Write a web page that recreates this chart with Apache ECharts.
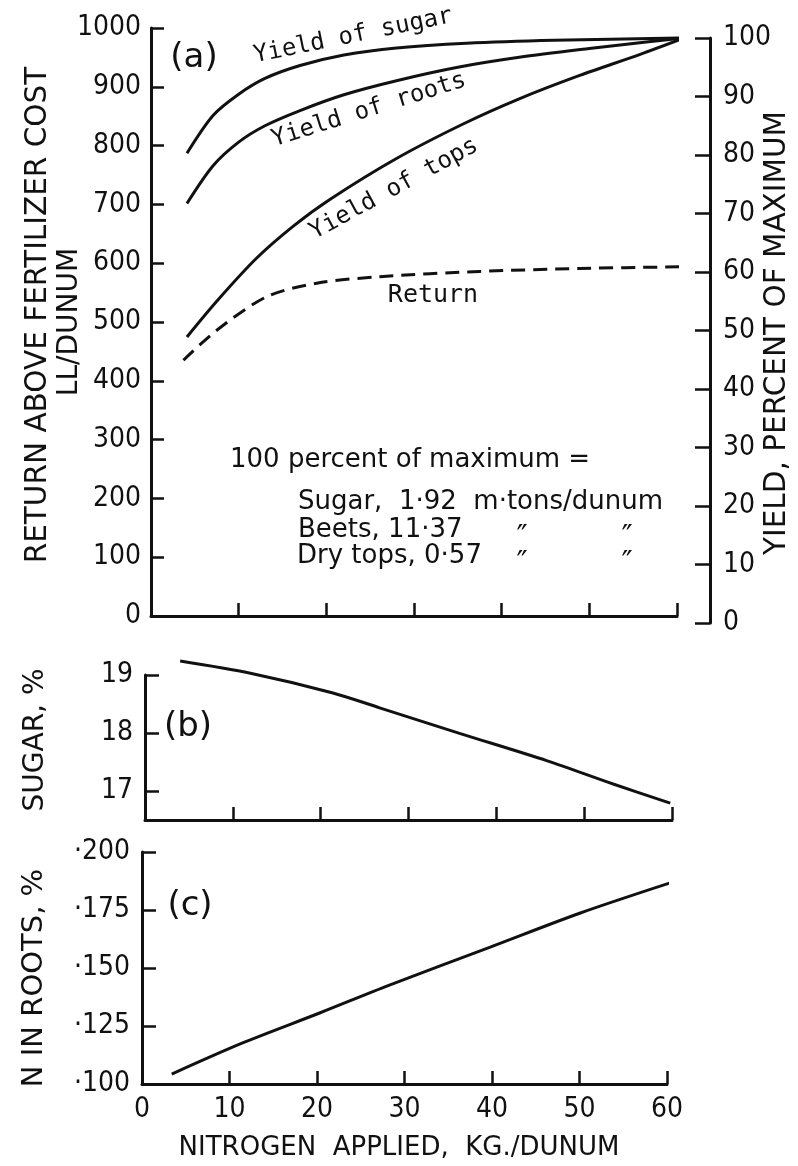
<!DOCTYPE html>
<html>
<head>
<meta charset="utf-8">
<script src="https://cdn.jsdelivr.net/npm/echarts@6/dist/echarts.min.js"></script>
<style>
  html, body { margin: 0; padding: 0; background: #fff; }
  #chart { width: 798px; height: 1166px; }
</style>
</head>
<body>
<div id="chart"></div>
<script>
// panel (a): yields as percent of maximum, return in LL/dunum
const sugarN = [4.1, 7.1, 10, 13, 17, 22, 28, 36, 46, 60.8];
const sugarPct = [80.3, 86.8, 90.4, 93.1, 95.3, 97.1, 98.3, 99.1, 99.6, 100];
const rootsN = [4.1, 7.1, 10, 13, 17, 22, 28, 35, 42, 50, 56.5, 60.8];
const rootsPct = [71.7, 78.2, 82.2, 85.0, 87.6, 90.3, 92.7, 95.0, 96.7, 98.2, 99.3, 100];
const topsN = [4.1, 7.5, 12.0, 16.2, 20.4, 28.0, 35.6, 42.0, 48.9, 55.8, 60.8];
const topsPct = [48.9, 55.0, 62.3, 67.8, 72.4, 79.4, 85.3, 89.6, 93.6, 97.2, 100];
const returnN = [3.7, 7.5, 13.2, 18.9, 26.1, 37.5, 48.9, 60.8];
const returnLL = [435, 486, 543, 566, 577, 586, 591, 594];

// panel (b): sugar content, %
const sugarContentN = [4.0, 12.0, 21.4, 26.8, 35.9, 45.8, 53.3, 59.8];
const sugarContent = [19.24, 19.03, 18.69, 18.43, 17.99, 17.52, 17.12, 16.79];

// panel (c): N in roots, %
const nRootsN = [3.4, 11.5, 20.3, 28.2, 39.8, 50.1, 60.3];
const nRoots = [0.1043, 0.1177, 0.1306, 0.1425, 0.159, 0.1737, 0.1866];

const sugarTicks = [17, 18, 19];

const INK = "#111";
const FONT_NUM = "'Liberation Sans Narrow', 'DejaVu Sans Condensed', 'DejaVu Sans', sans-serif";
const FONT_TITLE = "'DejaVu Sans', sans-serif";
const FONT_MONO = "'DejaVu Sans Mono', monospace";

const zip = (xs, ys) => xs.map((x, i) => [x, ys[i]]);

const chart = echarts.init(document.getElementById("chart"), null, { renderer: "canvas" });

const axisLine = { show: true, onZero: false, lineStyle: { color: INK, width: 3 } };
const tickStyle = { color: INK, width: 2.5 };
const numLabel = (extra) => Object.assign({ color: INK, fontFamily: FONT_NUM, fontSize: 28 }, extra);

function xAxisFor(gridIndex, showLabels, show = true) {
  return {
    type: "value",
    gridIndex,
    show,
    min: 0,
    max: 60,
    interval: 10,
    axisLine,
    axisTick: { show: true, inside: true, length: 13, lineStyle: tickStyle },
    axisLabel: numLabel({ show: showLabels, margin: 12 }),
    splitLine: { show: false },
  };
}

function lineSeries(name, data, xIdx, yIdx, dashed = false) {
  return {
    name,
    type: "line",
    xAxisIndex: xIdx,
    yAxisIndex: yIdx,
    data,
    symbol: "none",
    smooth: 0.3,
    clip: false,
    lineStyle: { color: INK, width: 3, type: dashed ? [14, 8] : "solid" },
  };
}

function txt(text, x, y, opts = {}) {
  return {
    type: "text",
    x,
    y,
    rotation: opts.rotation || 0,
    silent: true,
    style: {
      text,
      fill: INK,
      fontFamily: opts.font || FONT_TITLE,
      fontSize: opts.size || 28,
      align: opts.align || "center",
      verticalAlign: "middle",
    },
  };
}

const option = {
  animation: false,
  backgroundColor: "#fff",
  grid: [
    { left: 151, width: 526, top: 28, height: 588, outerBoundsMode: "none", containLabel: false },
    { left: 151, width: 526, top: 38, height: 585, outerBoundsMode: "none", containLabel: false },
    { left: 145, width: 527, top: 675, height: 145, outerBoundsMode: "none", containLabel: false },
    { left: 142, width: 525, top: 852, height: 232, outerBoundsMode: "none", containLabel: false },
  ],
  xAxis: [
    xAxisFor(0, false),
    xAxisFor(1, false, false),
    xAxisFor(2, false),
    xAxisFor(3, true),
  ],
  yAxis: [
    {
      type: "value", gridIndex: 0, position: "left", min: 0, max: 1000, interval: 100,
      axisLine, splitLine: { show: false },
      axisTick: { show: true, inside: true, length: 13, lineStyle: tickStyle },
      axisLabel: numLabel({ margin: 10, formatter: (v) => String(v) }),
    },
    {
      type: "value", gridIndex: 1, position: "right", offset: 33, min: 0, max: 100, interval: 10,
      axisLine, splitLine: { show: false },
      axisTick: { show: true, inside: true, length: 15, lineStyle: tickStyle },
      axisLabel: numLabel({ margin: 13 }),
    },
    {
      type: "value", gridIndex: 2, min: 16.5, max: 19,
      axisLine, splitLine: { show: false },
      axisTick: { show: true, inside: true, length: 14, customValues: sugarTicks, lineStyle: tickStyle },
      axisLabel: numLabel({ margin: 12, customValues: sugarTicks }),
    },
    {
      type: "value", gridIndex: 3, min: 0.1, max: 0.2, interval: 0.025,
      axisLine, splitLine: { show: false },
      axisTick: { show: true, inside: true, length: 14, lineStyle: tickStyle },
      axisLabel: numLabel({ margin: 12, formatter: (v) => "·" + v.toFixed(3).slice(2) }),
    },
  ],
  series: [
    lineSeries("Return", zip(returnN, returnLL), 0, 0, true),
    lineSeries("Yield of sugar", zip(sugarN, sugarPct), 1, 1),
    lineSeries("Yield of roots", zip(rootsN, rootsPct), 1, 1),
    lineSeries("Yield of tops", zip(topsN, topsPct), 1, 1),
    lineSeries("Sugar, %", zip(sugarContentN, sugarContent), 2, 2),
    lineSeries("N in roots, %", zip(nRootsN, nRoots), 3, 3),
  ],
  graphic: [
    // axis titles
    txt("RETURN ABOVE FERTILIZER COST", 38, 315, { rotation: Math.PI / 2, size: 29.5 }),
    txt("LL/DUNUM", 70, 322, { rotation: Math.PI / 2, size: 28 }),
    txt("YIELD, PERCENT OF MAXIMUM", 777, 333, { rotation: Math.PI / 2, size: 29.5 }),
    txt("SUGAR, %", 36, 740, { rotation: Math.PI / 2, size: 28 }),
    txt("N IN ROOTS, %", 34, 978, { rotation: Math.PI / 2, size: 29 }),
    txt("NITROGEN  APPLIED,  KG./DUNUM", 399, 1148, { size: 26 }),
    // panel letters
    txt("(a)", 194, 58, { size: 34 }),
    txt("(b)", 188, 727, { size: 34 }),
    txt("(c)", 190, 906, { size: 34 }),
    // curve labels
    txt("Yield of sugar", 353, 36, { font: FONT_MONO, size: 24, rotation: 11.5 * Math.PI / 180 }),
    txt("Yield of roots", 369, 110, { font: FONT_MONO, size: 24, rotation: 17.4 * Math.PI / 180 }),
    txt("Yield of tops", 394, 189, { font: FONT_MONO, size: 24, rotation: 28.5 * Math.PI / 180 }),
    txt("Return", 433, 295, { font: FONT_MONO, size: 25 }),
    // note
    txt("100 percent of maximum =", 230, 460, { size: 26, align: "left" }),
    txt("Sugar,  1·92  m·tons/dunum", 298, 502, { size: 26, align: "left" }),
    txt("Beets, 11·37", 298, 530, { size: 26, align: "left" }),
    txt("Dry tops, 0·57", 297, 556, { size: 26, align: "left" }),
    txt("″", 522, 538, { size: 30 }),
    txt("″", 627, 538, { size: 30 }),
    txt("″", 522, 564, { size: 30 }),
    txt("″", 627, 564, { size: 30 }),
  ],
};

chart.setOption(option);
</script>
</body>
</html>
